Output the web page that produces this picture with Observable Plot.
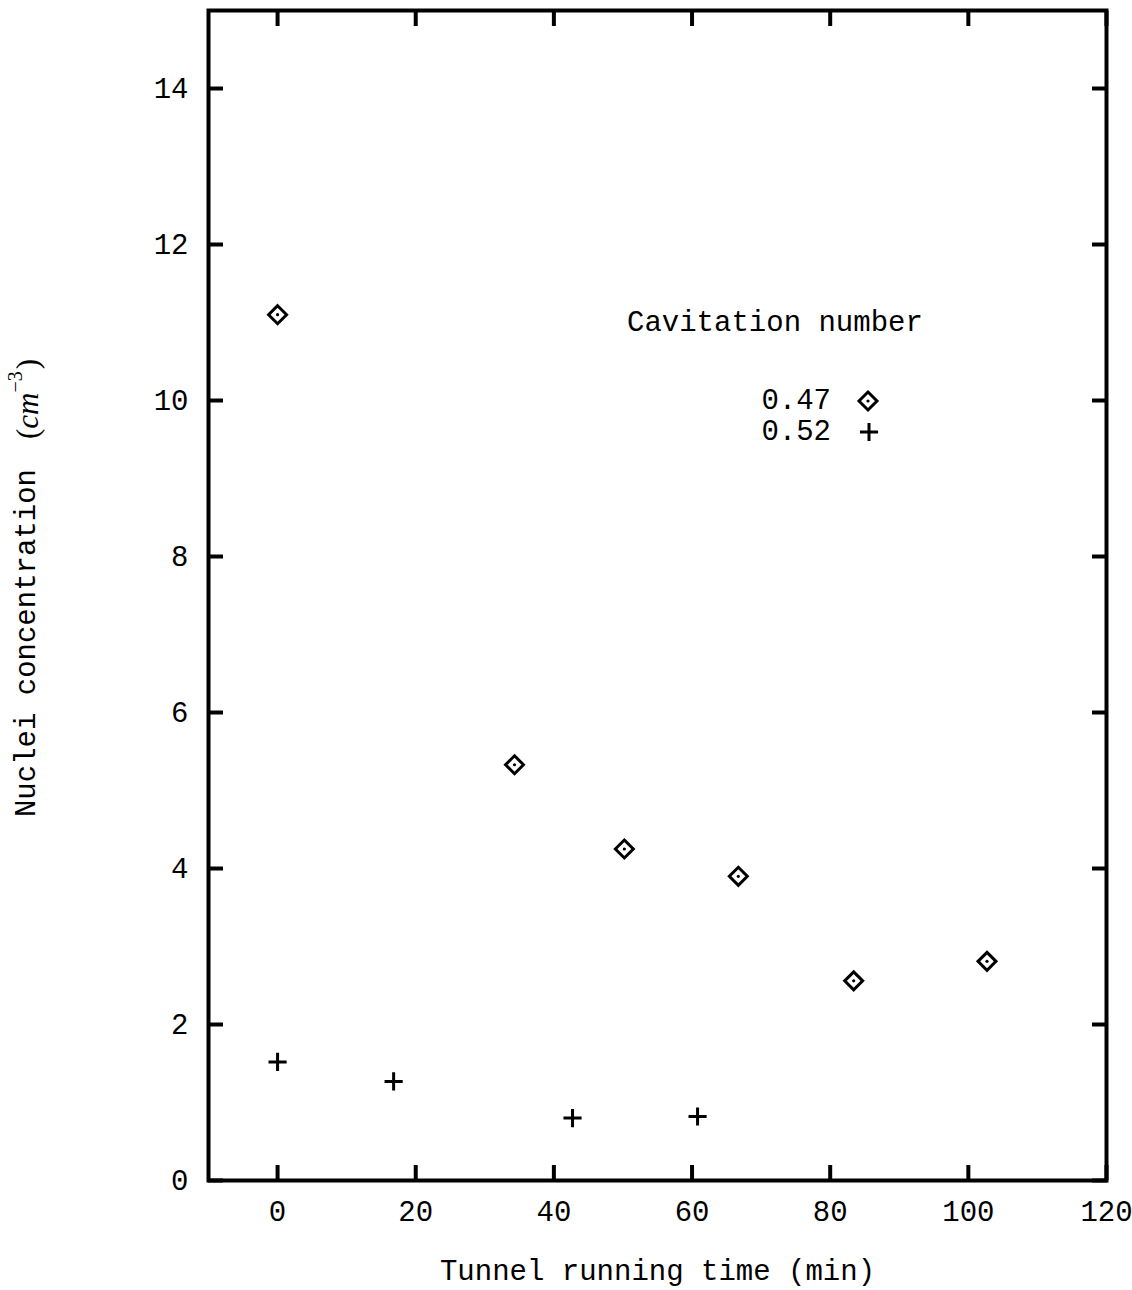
<!DOCTYPE html>
<html><head><meta charset="utf-8">
<script src="https://cdn.jsdelivr.net/npm/d3@7"></script>
<script src="https://cdn.jsdelivr.net/npm/@observablehq/plot@0.6"></script>
<style>
html,body{margin:0;padding:0;background:#fff;}
#chart{position:relative;width:1132px;height:1290px;}
</style></head><body><div id="chart"></div>
<script>
// Tick values
const xTicks = [0, 20, 40, 60, 80, 100, 120];
const yTicks = [0, 2, 4, 6, 8, 10, 12, 14];
// Series: cavitation number 0.47 (diamonds)
const time047 = [0, 34.3, 50.2, 66.7, 83.4, 102.7];
const conc047 = [11.10, 5.33, 4.25, 3.90, 2.56, 2.81];
// Series: cavitation number 0.52 (plus)
const time052 = [0, 16.8, 42.7, 60.8];
const conc052 = [1.52, 1.27, 0.80, 0.82];
const legendTitle = "Cavitation number";
const seriesLabels = ["0.47", "0.52"];

const diamonds = time047.map((t, i) => ({time: t, conc: conc047[i]}));
const pluses = time052.map((t, i) => ({time: t, conc: conc052[i]}));

const font = "'Liberation Mono', 'Courier New', monospace";
const serif = "'Liberation Serif', 'Times New Roman', serif";

const plot = Plot.plot({
  width: 1132, height: 1290,
  marginLeft: 208, marginRight: 26, marginTop: 10, marginBottom: 110,
  style: {fontFamily: font, fontSize: "29px", background: "#fff", color: "#000", overflow: "visible"},
  x: {domain: [-10, 120]},
  y: {domain: [0, 15]},
  marks: [
    Plot.axisX(xTicks, {anchor: "bottom", tickSize: -15, tickPadding: 35, strokeWidth: 4, fontSize: 29,
      tickFormat: d => String(d),
      label: "Tunnel running time (min)", labelAnchor: "center", labelOffset: 99, labelArrow: "none"}),
    Plot.axisX(xTicks, {anchor: "top", tickSize: -15, strokeWidth: 4, tickFormat: () => "", label: null}),
    Plot.axisY(yTicks, {anchor: "left", tickSize: -15, tickPadding: 35, strokeWidth: 4, fontSize: 29,
      tickFormat: d => String(d), label: null}),
    Plot.axisY(yTicks, {anchor: "right", tickSize: -15, strokeWidth: 4, tickFormat: () => "", label: null}),
    Plot.frame({strokeWidth: 4, stroke: "#000"}),
    Plot.dot(diamonds, {x: "time", y: "conc", symbol: "diamond2", r: 8.1, stroke: "#000", strokeWidth: 3}),
    Plot.dot(diamonds, {x: "time", y: "conc", r: 1.6, fill: "#000", stroke: "none"}),
    Plot.dot(pluses, {x: "time", y: "conc", symbol: "plus", r: 5.9, stroke: "#000", strokeWidth: 3})
  ]
});

const svg = d3.select(plot);
// Y-axis label with italic unit and superscript
const yl = svg.append("text")
  .attr("transform", "translate(27,588) rotate(-90)")
  .attr("text-anchor", "middle")
  .attr("dominant-baseline", "central")
  .attr("font-family", font)
  .attr("font-size", 29)
  .attr("fill", "#000");
yl.append("tspan").text("Nuclei concentration");
yl.append("tspan").attr("font-family", serif).attr("font-size", 31).attr("dx", 30).text("(");
yl.append("tspan").attr("font-family", serif).attr("font-size", 31).attr("font-style", "italic").text("cm");
yl.append("tspan").attr("font-family", serif).attr("font-size", 20).attr("dy", -12).text("\u22123");
yl.append("tspan").attr("font-family", serif).attr("font-size", 31).attr("dy", 12).attr("dx", 2).text(")");

// Legend
const lg = svg.append("g").attr("font-family", font).attr("font-size", 29).attr("fill", "#000");
lg.append("text").attr("x", 627).attr("y", 323).attr("text-anchor", "start").attr("dominant-baseline", "central").text(legendTitle);
lg.append("text").attr("x", 831).attr("y", 401).attr("text-anchor", "end").attr("dominant-baseline", "central").text(seriesLabels[0]);
lg.append("text").attr("x", 831).attr("y", 432).attr("text-anchor", "end").attr("dominant-baseline", "central").text(seriesLabels[1]);
lg.append("path").attr("d", d3.symbol(d3.symbolDiamond2, Math.PI * 8.1 * 8.1)()).attr("transform", "translate(868,401)")
  .attr("fill", "none").attr("stroke", "#000").attr("stroke-width", 3);
lg.append("circle").attr("cx", 868).attr("cy", 401).attr("r", 1.6).attr("fill", "#000");
lg.append("path").attr("d", d3.symbol(d3.symbolPlus, Math.PI * 5.9 * 5.9)()).attr("transform", "translate(869,432)")
  .attr("fill", "none").attr("stroke", "#000").attr("stroke-width", 3);

document.getElementById("chart").appendChild(plot);
</script></body></html>
